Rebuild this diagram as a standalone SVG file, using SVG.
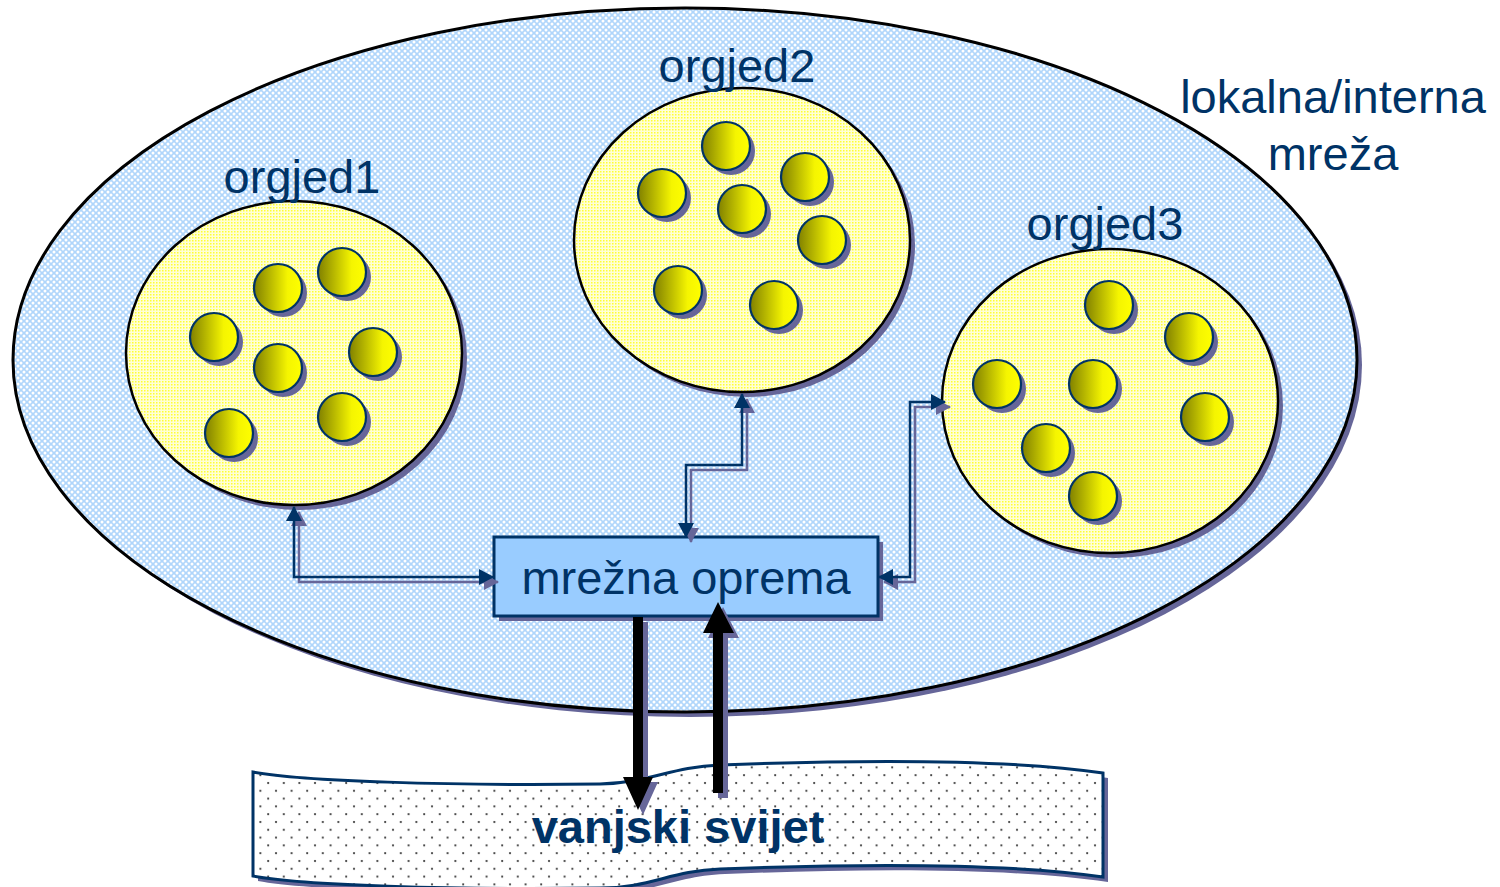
<svg xmlns="http://www.w3.org/2000/svg" width="1500" height="887" viewBox="0 0 1500 887">
<style>
.sh{fill:#666699;stroke:none}
.lbl{font-family:"Liberation Sans",Arial,sans-serif;font-size:47px;fill:#003366;text-anchor:middle}
.ball{fill:url(#gBall);stroke:#003366;stroke-width:2.2}
.org{fill:url(#pYellow);stroke:#000;stroke-width:2.5}
.conn{fill:none;stroke:#003366;stroke-width:2.5;marker-start:url(#ah);marker-end:url(#ah)}
.connsh{fill:none;stroke:#666699;stroke-width:2.5;marker-start:url(#ahs);marker-end:url(#ahs)}
</style>
<defs>
<pattern id="pBlue" patternUnits="userSpaceOnUse" width="6" height="6">
<rect width="6" height="6" fill="#b0d6fb"/>
<circle cx="0" cy="0" r="1.5" fill="#fff"/><circle cx="6" cy="0" r="1.5" fill="#fff"/>
<circle cx="0" cy="6" r="1.5" fill="#fff"/><circle cx="6" cy="6" r="1.5" fill="#fff"/>
<circle cx="3" cy="3" r="1.5" fill="#fff"/>
</pattern>
<pattern id="pYellow" patternUnits="userSpaceOnUse" width="3" height="3">
<rect width="3" height="3" fill="#ffffd6"/>
<rect width="1.5" height="1.5" fill="#ffff33"/>
</pattern>
<pattern id="pDots" patternUnits="userSpaceOnUse" width="15.6" height="15.6">
<rect width="15.6" height="15.6" fill="#fff"/>
<circle cx="3" cy="3" r="1.1" fill="#333"/>
<circle cx="10.8" cy="10.8" r="1.1" fill="#333"/>
</pattern>
<linearGradient id="gBall" x1="0" y1="0" x2="1" y2="0">
<stop offset="0" stop-color="#808000"/>
<stop offset="0.7" stop-color="#f5f500"/>
<stop offset="1" stop-color="#ffff00"/>
</linearGradient>
<marker id="ah" viewBox="0 0 15 16" refX="14" refY="8" markerWidth="15" markerHeight="16" markerUnits="userSpaceOnUse" orient="auto-start-reverse">
<path d="M0,0 L15,8 L0,16 Z" fill="#003366"/>
</marker>
<marker id="ahs" viewBox="0 0 15 16" refX="14" refY="8" markerWidth="15" markerHeight="16" markerUnits="userSpaceOnUse" orient="auto-start-reverse">
<path d="M0,0 L15,8 L0,16 Z" fill="#666699"/>
</marker>
</defs>

<g id="lokalna-mreza">
<ellipse class="sh" cx="690" cy="365" rx="672" ry="352"/>
<ellipse cx="685" cy="360" rx="672" ry="352" fill="url(#pBlue)" stroke="#000" stroke-width="3"/>
<text class="lbl" x="1333" y="113">lokalna/interna</text>
<text class="lbl" x="1333" y="170">mreža</text>
</g>

<g id="orgjed1">
<ellipse class="sh" cx="299" cy="358" rx="168" ry="152"/>
<ellipse class="org" cx="294" cy="353" rx="168" ry="152"/>
<g class="sh">
<circle cx="283" cy="293" r="24"/><circle cx="347" cy="277" r="24"/><circle cx="219" cy="342" r="24"/>
<circle cx="283" cy="373" r="24"/><circle cx="378" cy="357" r="24"/><circle cx="234" cy="438" r="24"/><circle cx="347" cy="422" r="24"/>
</g>
<g class="ball">
<circle cx="278" cy="288" r="24"/><circle cx="342" cy="272" r="24"/><circle cx="214" cy="337" r="24"/>
<circle cx="278" cy="368" r="24"/><circle cx="373" cy="352" r="24"/><circle cx="229" cy="433" r="24"/><circle cx="342" cy="417" r="24"/>
</g>
<text class="lbl" x="302" y="193">orgjed1</text>
</g>

<g id="orgjed2">
<ellipse class="sh" cx="747" cy="245" rx="168" ry="152"/>
<ellipse class="org" cx="742" cy="240" rx="168" ry="152"/>
<g class="sh">
<circle cx="731" cy="151" r="24"/><circle cx="810" cy="182" r="24"/><circle cx="667" cy="198" r="24"/>
<circle cx="747" cy="214" r="24"/><circle cx="827" cy="245" r="24"/><circle cx="683" cy="295" r="24"/><circle cx="779" cy="310" r="24"/>
</g>
<g class="ball">
<circle cx="726" cy="146" r="24"/><circle cx="805" cy="177" r="24"/><circle cx="662" cy="193" r="24"/>
<circle cx="742" cy="209" r="24"/><circle cx="822" cy="240" r="24"/><circle cx="678" cy="290" r="24"/><circle cx="774" cy="305" r="24"/>
</g>
<text class="lbl" x="737" y="82">orgjed2</text>
</g>

<g id="orgjed3">
<ellipse class="sh" cx="1115" cy="406" rx="168" ry="152"/>
<ellipse class="org" cx="1110" cy="401" rx="168" ry="152"/>
<g class="sh">
<circle cx="1114" cy="310" r="24"/><circle cx="1194" cy="342" r="24"/><circle cx="1002" cy="389" r="24"/>
<circle cx="1098" cy="389" r="24"/><circle cx="1210" cy="422" r="24"/><circle cx="1051" cy="453" r="24"/><circle cx="1098" cy="501" r="24"/>
</g>
<g class="ball">
<circle cx="1109" cy="305" r="24"/><circle cx="1189" cy="337" r="24"/><circle cx="997" cy="384" r="24"/>
<circle cx="1093" cy="384" r="24"/><circle cx="1205" cy="417" r="24"/><circle cx="1046" cy="448" r="24"/><circle cx="1093" cy="496" r="24"/>
</g>
<text class="lbl" x="1105" y="240">orgjed3</text>
</g>

<g id="mrezna-oprema">
<rect class="sh" x="499" y="542" width="384" height="79"/>
<rect x="494" y="537" width="384" height="79" fill="#99ccff" stroke="#003366" stroke-width="3"/>
<text class="lbl" x="686" y="594">mrežna oprema</text>
</g>

<g id="vanjski-svijet">
<path class="sh" d="M258,777 C305,786 455,791 605,789 C655,788 675,772 725,770 C855,765 1005,763 1108,778 L1108,882 C1005,867 855,869 725,874 C675,876 655,893 605,893 C455,895 305,890 258,881 Z"/>
<path d="M253,772 C300,781 450,786 600,784 C650,783 670,767 720,765 C850,760 1000,758 1103,773 L1103,877 C1000,862 850,864 720,869 C670,871 650,888 600,888 C450,890 300,885 253,876 Z" fill="url(#pDots)" stroke="#003366" stroke-width="3"/>
<text class="lbl" x="678" y="843" font-weight="bold">vanjski svijet</text>
</g>

<g id="connectors">
<path class="connsh" d="M299,512 V582 H498"/>
<path class="conn" d="M294,507 V577 H493"/>
<path class="connsh" d="M747,399 V470 H691 V542"/>
<path class="conn" d="M742,394 V465 H686 V537"/>
<path class="connsh" d="M950,407 H915 V582 H884"/>
<path class="conn" d="M945,402 H910 V577 H879"/>
<polygon class="sh" points="638,622 648,622 648,782 658,782 643,815 628,782 638,782"/>
<polygon fill="#000" points="633,617 643,617 643,777 653,777 638,810 623,777 633,777"/>
<polygon class="sh" points="718,798 728,798 728,638 739,638 723,607 708,638 718,638"/>
<polygon fill="#000" points="713,793 723,793 723,633 734,633 718,602 703,633 713,633"/>
</g>
</svg>
